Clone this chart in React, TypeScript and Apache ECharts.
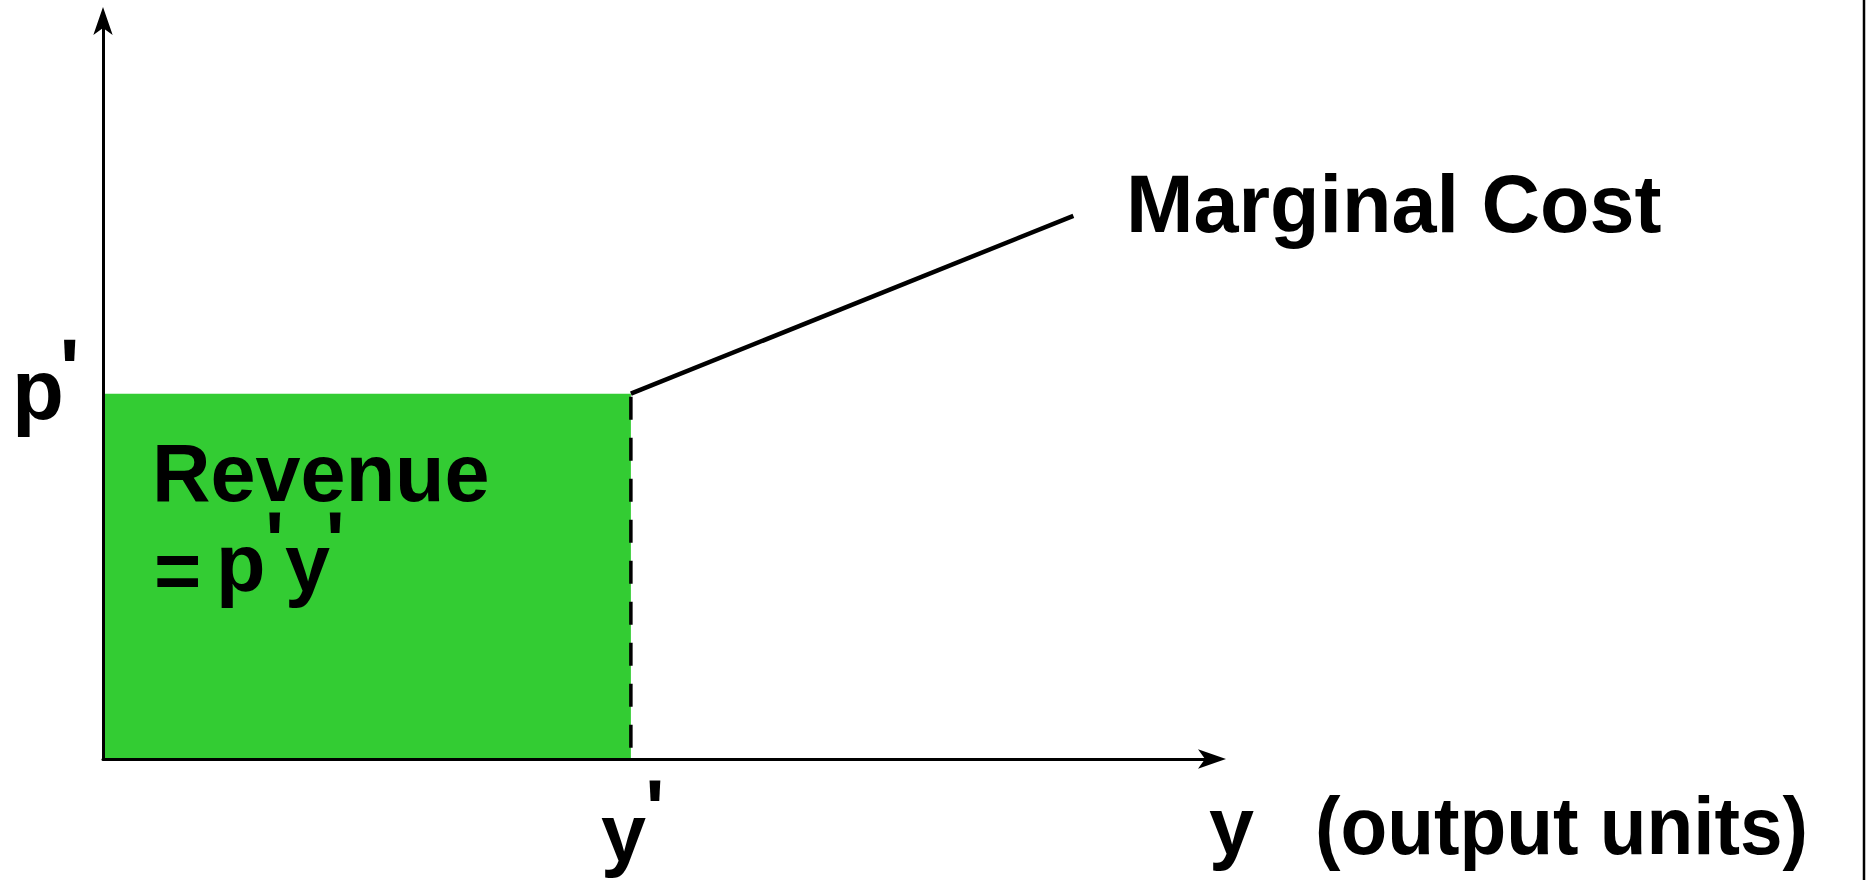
import React, { useEffect, useRef } from "react";
import * as echarts from "echarts";

// ---- data (axis units 0..100) ----
const axisMin = 0;
const axisMax = 100;
const yPrime = 47.6; // output level y'
const pPrime = 49.5; // price p'
const revenueX = [0, yPrime];
const revenueY = [pPrime, pPrime];
const mcX = [yPrime, 87.5];
const mcY = [pPrime, 73.6];
const dropX = [yPrime, yPrime];
const dropY = [pPrime, 0];

const labelMC = "Marginal Cost";
const labelRevenue = "Revenue";
const labelEq = "=";
const labelP = "p";
const labelY = "y";
const labelPrime = "'";
const labelAxisX = "(output units)";

const FONT = "'Liberation Sans', Arial, Helvetica, sans-serif";

function txt(text: string, x: number, y: number, size: number, align = "left", scaleX = 1) {
  return {
    type: "text",
    x,
    y,
    scaleX,
    z: 100,
    style: {
      text,
      fontFamily: FONT,
      fontSize: size,
      fontWeight: "bold",
      fill: "#000",
      align,
      verticalAlign: "middle",
    },
  };
}

const pairs = (xs: number[], ys: number[]) => xs.map((x, i) => [x, ys[i]]);

export default function App() {
  const ref = useRef<HTMLDivElement>(null);
  useEffect(() => {
    document.body.style.margin = "0";
    const chart = echarts.init(ref.current!, null, { renderer: "svg" });
    const axisCommon = {
      type: "value",
      min: axisMin,
      max: axisMax,
      z: 10,
      axisLine: {
        show: true,
        symbol: ["none", "arrow"],
        symbolSize: [14.5, 28],
        symbolOffset: [0, 14],
        lineStyle: { color: "#000", width: 3 },
      },
      axisTick: { show: false },
      axisLabel: { show: false },
      splitLine: { show: false },
    };
    chart.setOption({
      animation: false,
      backgroundColor: "#fff",
      grid: { left: 103, top: 21, right: 656, bottom: 121, containLabel: false },
      xAxis: { ...axisCommon },
      yAxis: { ...axisCommon },
      series: [
        {
          type: "line",
          data: pairs(revenueX, revenueY),
          symbol: "none",
          lineStyle: { width: 0, opacity: 0 },
          areaStyle: { color: "#33CC33", opacity: 1 },
          z: 2,
        },
        {
          type: "line",
          data: pairs(dropX, dropY),
          symbol: "none",
          lineStyle: { color: "#000", width: 3.5, type: [23, 18], dashOffset: 38 },
          z: 3,
        },
        {
          type: "line",
          data: pairs(mcX, mcY),
          symbol: "none",
          lineStyle: { color: "#000", width: 4.5 },
          z: 4,
        },
      ],
    });
    const [px, py] = chart.convertToPixel({ gridIndex: 0 }, [yPrime, pPrime]) as number[];
    chart.setOption({
      graphic: [
        // p' on the price axis
        txt(labelP, 12, py - 4, 85),
        txt(labelPrime, 69.7, py - 25, 85, "center"),
        // y' on the output axis
        txt(labelY, px - 30, 833, 81),
        txt(labelPrime, px + 24, 809, 81, "center"),
        // Marginal Cost
        txt(labelMC, 1126, 204, 81),
        // Revenue = p'y'
        txt(labelRevenue, 152, 473, 81),
        txt(labelEq, 154, 571, 81),
        txt(labelP, 216, 563, 81),
        txt(labelPrime, 274.5, 541, 81, "center"),
        txt(labelY, 285, 563, 81),
        txt(labelPrime, 335, 541, 81, "center"),
        // axis title
        txt(labelY, 1209, 826, 81),
        txt(labelAxisX, 1315, 826, 81, "left", 0.945),
        // right border
        {
          type: "line",
          shape: { x1: 1864, y1: 0, x2: 1864, y2: 880 },
          style: { stroke: "#000", lineWidth: 2.5 },
        },
      ],
    });
    return () => chart.dispose();
  }, []);
  return <div ref={ref} style={{ width: 1868, height: 880 }} />;
}
